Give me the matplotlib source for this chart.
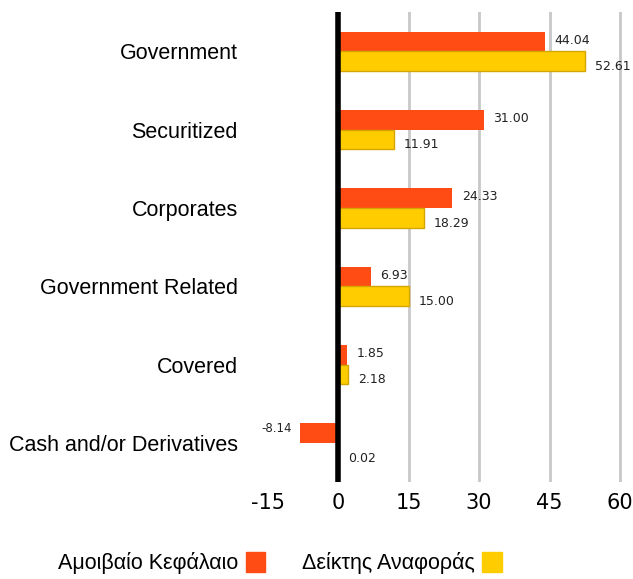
import matplotlib.pyplot as plt
import numpy as np

categories = ["Government", "Securitized", "Corporates", "Government Related",
              "Covered", "Cash and/or Derivatives"]
fund = [44.04, 31.00, 24.33, 6.93, 1.85, -8.14]
index = [52.61, 11.91, 18.29, 15.00, 2.18, 0.02]
series_names = ["Αμοιβαίο Κεφάλαιο", "Δείκτης Αναφοράς"]
xticks = [-15, 0, 15, 30, 45, 60]

red = "#FF4B14"
yellow = "#FFCC00"

fig = plt.figure(figsize=(6.33, 5.79), dpi=100)
ax = fig.add_axes([0.4226, 0.1675, 0.5644, 0.8115])

y = np.arange(len(categories))
h = 0.25
ax.barh(y - h / 2, fund, height=h, color=red, zorder=3)
ax.barh(y + h / 2, index, height=h, color=yellow, edgecolor="#D4A500", linewidth=1, zorder=3)

for yi, v in zip(y, fund):
    if v >= 0:
        ax.annotate(f"{v:.2f}", (v, yi - h / 2), xytext=(7, 1), textcoords="offset points",
                    ha="left", va="center", fontsize=9, color="#222222")
    else:
        ax.annotate(f"{v:.2f}", (v, yi - h / 2), xytext=(-6, 3), textcoords="offset points",
                    ha="right", va="center", fontsize=8.5, color="#222222")
for yi, v in zip(y, index):
    ax.annotate(f"{v:.2f}", (v, yi + h / 2), xytext=(7, -4), textcoords="offset points",
                ha="left", va="center", fontsize=9, color="#222222")

for t in xticks:
    if t > 0:
        ax.axvline(t, color="#C8C8C8", linewidth=2, zorder=1)
ax.axvline(0, color="black", linewidth=4, zorder=4)

ax.set_xlim(-15, 61)
ax.set_ylim(len(categories) - 0.5, -0.5)
ax.set_xticks(xticks)
ax.set_xticklabels([str(t) for t in xticks], fontsize=15)
ax.set_yticks(y)
ax.set_yticklabels(categories, fontsize=15.5, family="Liberation Sans")
ax.tick_params(axis="y", length=0, pad=21.5)
ax.tick_params(axis="x", length=0, pad=8)
for s in ax.spines.values():
    s.set_visible(False)

# legend: text first, square after
fig.text(0.0916, 0.028, series_names[0], fontsize=15.5, family="Liberation Sans", va="center")
fig.patches.append(plt.Rectangle((0.388, 0.012), 0.031, 0.034, color=red, transform=fig.transFigure))
fig.text(0.477, 0.028, series_names[1], fontsize=15.5, family="Liberation Sans", va="center")
fig.patches.append(plt.Rectangle((0.762, 0.012), 0.031, 0.034, color=yellow, transform=fig.transFigure))

fig.savefig("out.png", dpi=100)
